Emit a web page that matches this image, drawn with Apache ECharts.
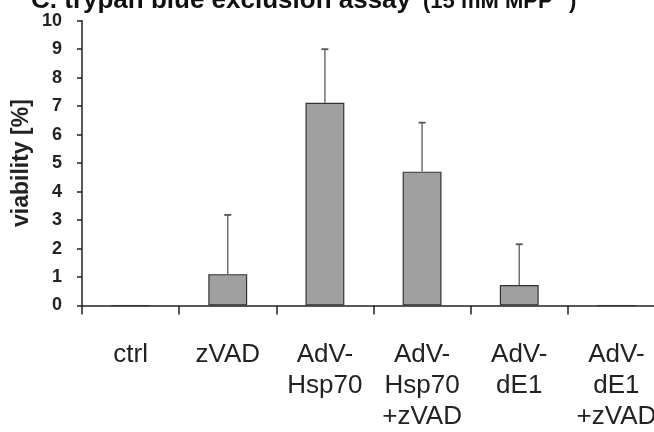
<!DOCTYPE html>
<html><head><meta charset="utf-8">
<script src="https://cdn.jsdelivr.net/npm/echarts@6/dist/echarts.min.js"></script>
<style>html,body{margin:0;padding:0;background:#fff}#c{width:654px;height:432px}</style>
</head><body><div id="c"></div>
<script>
const categories = ['ctrl', 'zVAD', 'AdV-\nHsp70', 'AdV-\nHsp70\n+zVAD', 'AdV-\ndE1', 'AdV-\ndE1\n+zVAD'];
const viability = [0, 1.1, 7.12, 4.70, 0.72, 0];
const errorUp = [0, 2.08, 1.88, 1.72, 1.43, 0];
const yMin = 0, yMax = 10, yStep = 1;

const FONT = 'Arial, "Liberation Sans", sans-serif';
const chart = echarts.init(document.getElementById('c'), null, {renderer: 'canvas'});

const errData = categories.map((c, i) => [i, viability[i], errorUp[i]]);

chart.setOption({
  animation: false,
  backgroundColor: '#fff',
  graphic: [
    {type: 'text', left: 31, top: -12, z: 10, style: {text: 'C. trypan blue exclusion assay', font: 'bold 26px ' + FONT, fill: '#111'}},
    {type: 'text', left: 423, top: -9, z: 10, style: {text: '(15 mM MPP', font: 'bold 22px ' + FONT, fill: '#111'}},
    {type: 'text', left: 558, top: -9, z: 10, style: {text: '+', font: 'bold 13px ' + FONT, fill: '#111'}},
    {type: 'text', left: 569, top: -9, z: 10, style: {text: ')', font: 'bold 22px ' + FONT, fill: '#111'}}
  ],
  grid: {left: 82, top: 20.7, width: 583, bottom: 126.5, containLabel: false, outerBoundsMode: 'none'},
  xAxis: {
    type: 'category',
    data: categories,
    axisLine: {lineStyle: {color: '#222', width: 1.5}},
    axisTick: {show: true, alignWithLabel: false, length: 9, lineStyle: {color: '#222', width: 1.5}},
    axisLabel: {interval: 0, margin: 34, fontFamily: FONT, fontSize: 26, lineHeight: 31, color: '#222', align: 'center'},
    splitLine: {show: false}
  },
  yAxis: {
    type: 'value',
    min: yMin, max: yMax, interval: yStep,
    name: 'viability [%]',
    nameLocation: 'middle',
    nameGap: 49,
    nameMoveOverlap: false,
    nameTextStyle: {fontFamily: FONT, fontSize: 23, fontWeight: 'bold', color: '#222'},
    axisLine: {show: true, lineStyle: {color: '#222', width: 1.5}},
    axisTick: {show: true, length: 5, lineStyle: {color: '#222', width: 1.5}},
    axisLabel: {margin: 20, fontFamily: FONT, fontSize: 18, fontWeight: 'bold', color: '#222'},
    splitLine: {show: false}
  },
  series: [
    {
      type: 'bar',
      data: viability,
      barWidth: '40%',
      itemStyle: {color: '#a0a0a0', borderColor: '#333', borderWidth: 1.2},
      z: 2
    },
    {
      type: 'custom',
      data: errData,
      z: 3,
      renderItem: function (params, api) {
        const i = api.value(0), v = api.value(1), e = api.value(2);
        if (!e) return null;
        const base = api.coord([i, v]);
        const top = api.coord([i, v + e]);
        const half = 3.5;
        return {
          type: 'group',
          children: [
            {type: 'line', shape: {x1: base[0], y1: base[1], x2: top[0], y2: top[1]}, style: {stroke: '#707070', lineWidth: 1.5}},
            {type: 'line', shape: {x1: top[0] - half, y1: top[1], x2: top[0] + half, y2: top[1]}, style: {stroke: '#555', lineWidth: 1.8}}
          ]
        };
      }
    }
  ]
});
</script></body></html>
